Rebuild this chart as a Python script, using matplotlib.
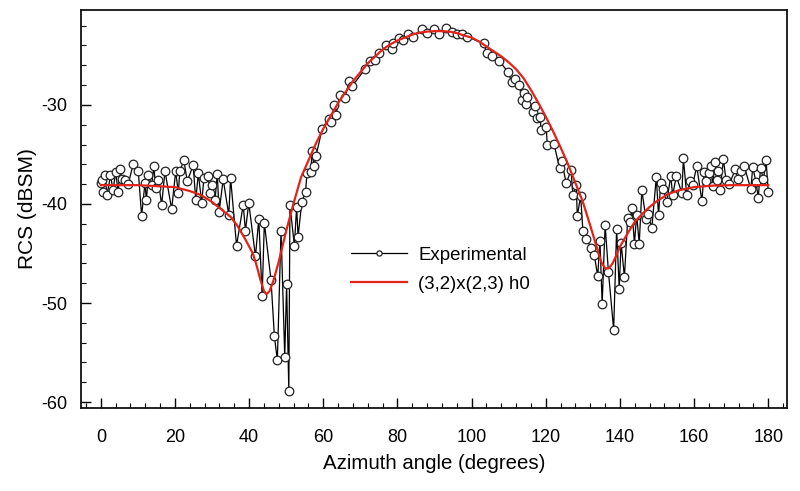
import numpy as np
import matplotlib
matplotlib.use("Agg")
import matplotlib.pyplot as plt
from matplotlib.ticker import MultipleLocator

exp_angle = [
    0.0, 0.3, 0.6, 1.1, 1.7, 2.6, 3.3, 4.0, 4.7, 5.1, 5.8, 6.5, 7.4, 8.7,
    10.1, 11.0, 11.9, 12.3, 12.8, 13.7, 14.3, 14.8, 15.5, 16.4, 17.3, 19.1,
    20.2, 20.9, 21.3, 22.4, 23.3, 24.9, 25.6, 26.3, 27.2, 27.8, 29.0, 29.4,
    30.1, 30.8, 31.4, 31.9, 33.0, 34.5, 35.0, 36.6, 38.4, 39.0, 39.9, 41.7,
    42.6, 43.5, 44.1, 45.9, 46.8, 47.6, 48.6, 49.6, 50.1, 50.7, 51.0, 52.2,
    52.8, 53.2, 54.2, 55.2, 55.6, 56.6, 57.0, 57.5, 58.0, 59.7, 61.4, 62.2,
    62.8, 63.4, 64.5, 65.8, 67.0, 67.8, 71.2, 72.6, 73.9, 75.1, 76.9, 78.4,
    78.9, 80.4, 81.4, 82.9, 84.1, 86.7, 87.9, 89.9, 91.3, 93.0, 94.6, 96.0,
    97.3, 98.7, 103.2, 104.1, 105.4, 107.5, 109.9, 110.8, 111.7, 112.9,
    113.5, 114.0, 114.7, 115.0, 116.5, 117.1, 117.6, 118.5, 118.7, 120.1,
    120.4, 122.2, 123.7, 124.3, 125.5, 126.8, 127.3, 128.2, 128.5, 129.4,
    130.0, 130.9, 132.2, 133.1, 134.0, 134.6, 135.2, 136.0, 136.9, 138.3,
    139.1, 139.8, 140.3, 141.2, 142.1, 142.7, 143.2, 143.9, 144.5, 145.2,
    145.9, 147.0, 147.5, 148.6, 149.8, 150.4, 151.0, 151.7, 152.6, 153.7,
    154.2, 155.2, 156.7, 157.1, 158.0, 158.9, 159.6, 160.7, 162.1, 162.7,
    163.2, 163.9, 164.5, 165.0, 165.6, 166.1, 166.5, 167.0, 167.9, 168.6,
    169.5, 171.1, 171.7, 172.6, 173.5, 175.3, 175.8, 176.7, 177.3, 177.9,
    178.7, 179.4, 180.0,
]
exp_rcs = [
    -37.9, -37.6, -38.8, -37.1, -39.1, -37.1, -38.6, -36.8, -38.8, -36.5,
    -37.5, -37.6, -38.0, -36.0, -36.7, -41.2, -37.9, -39.6, -37.1, -38.1,
    -36.2, -38.4, -37.6, -40.1, -36.7, -40.5, -36.7, -38.9, -36.7, -35.6,
    -37.7, -36.1, -39.6, -36.9, -39.9, -37.4, -37.2, -38.9, -38.1, -39.6,
    -37.0, -40.8, -37.5, -41.1, -37.4, -44.2, -40.1, -42.7, -39.9, -45.3,
    -41.5, -49.3, -41.9, -47.7, -53.3, -55.8, -42.7, -55.4, -48.1, -58.9,
    -40.1, -44.2, -40.3, -43.3, -39.8, -38.8, -36.9, -36.8, -34.7, -36.2,
    -35.2, -32.4, -31.4, -31.7, -30.0, -31.0, -29.0, -29.3, -27.6, -28.1,
    -26.4, -25.6, -25.5, -24.8, -24.0, -24.4, -23.8, -23.2, -23.4, -22.8,
    -23.1, -22.3, -22.7, -22.3, -22.8, -22.2, -22.6, -22.8, -22.8, -23.1,
    -23.8, -24.8, -25.1, -25.6, -26.7, -27.7, -27.4, -28.0, -29.5, -28.8,
    -29.9, -29.2, -30.7, -30.1, -31.3, -31.2, -32.5, -32.2, -34.0, -33.9,
    -36.4, -35.7, -37.9, -36.6, -39.1, -38.1, -41.2, -39.2, -42.7, -43.5,
    -44.4, -45.2, -47.3, -43.7, -50.1, -42.1, -46.9, -52.7, -42.5, -48.6,
    -43.9, -47.4, -41.4, -41.8, -40.4, -44.0, -41.1, -44.0, -38.6, -41.5,
    -41.0, -42.4, -37.3, -41.1, -37.9, -38.5, -39.8, -37.2, -39.1, -37.2,
    -38.9, -35.4, -39.1, -37.7, -38.1, -36.2, -39.7, -36.8, -37.7, -36.9,
    -36.2, -38.2, -35.8, -37.6, -36.7, -38.6, -35.5, -37.6, -38.0, -36.5,
    -37.5, -36.7, -36.2, -38.5, -36.3, -37.8, -39.4, -36.4, -37.5, -35.6,
    -38.8,
]

# model curve (3,2)x(2,3) h0
model_angle = [
    0, 5, 10, 15, 20, 24, 27, 30, 33, 35, 37, 39, 41, 42, 43, 44, 44.7,
    45.5, 46.5, 48, 50, 52, 54, 56, 58, 60, 62, 64, 66, 68, 70, 72, 74, 76,
    78, 80, 82, 84, 86, 88, 90, 92, 94, 96, 98, 100, 102, 104, 106, 108,
    110, 112, 114, 116, 118, 120, 122, 124, 126, 128, 130, 132, 134, 135,
    136, 137, 138, 139, 140, 142, 144, 146, 148, 150, 153, 156, 160, 165,
    170, 175, 180,
]
model_rcs = [
    -38.1, -38.1, -38.1, -38.2, -38.3, -38.7, -39.1, -39.8, -40.7, -41.3,
    -42.3, -43.6, -45.0, -46.2, -47.6, -48.8, -49.1, -48.8, -47.8, -45.8,
    -42.7, -39.9, -37.3, -35.6, -33.9, -32.4, -31.1, -29.8, -28.7, -27.6,
    -26.7, -25.8, -25.1, -24.4, -23.9, -23.5, -23.2, -22.9, -22.7, -22.6,
    -22.55, -22.55, -22.6, -22.75, -23.0, -23.2, -23.6, -24.1, -24.6, -25.1,
    -25.7, -26.4, -27.3, -28.5, -29.8, -31.2, -32.7, -34.3, -36.0, -37.9,
    -39.8, -42.2, -44.7, -45.9, -46.5, -46.5, -46.0, -45.2, -44.3, -43.0,
    -41.8, -41.0, -40.3, -39.7, -39.0, -38.6, -38.3, -38.15, -38.1, -38.1,
    -38.1,
]

plt.rcParams['font.family'] = ['Liberation Sans', 'DejaVu Sans']
plt.rcParams['axes.unicode_minus'] = False

fig = plt.figure(figsize=(8.0, 4.91), dpi=100)
ax = fig.add_axes([0.101, 0.169, 0.883, 0.811])

ax.plot(exp_angle, exp_rcs, color='black', lw=0.9, marker='o', ms=6.2,
        mfc='white', mec='#222222', mew=0.9, label='Experimental', zorder=2)
ax.plot(model_angle, model_rcs, color='#e2231a', lw=1.6,
        label='(3,2)x(2,3) h0', zorder=3)

ax.set_xlim(-5.4, 185.1)
ax.set_ylim(-60.6, -20.4)
ax.xaxis.set_major_locator(MultipleLocator(20))
ax.xaxis.set_minor_locator(MultipleLocator(4))
ax.yaxis.set_major_locator(MultipleLocator(10))
ax.yaxis.set_minor_locator(MultipleLocator(2))
ax.tick_params(which='both', direction='in', top=False, right=False,
               width=1.0, colors='black', labelsize=13)
ax.tick_params(which='major', length=7)
ax.tick_params(which='minor', length=3.5, width=0.8)
ax.tick_params(axis='x', which='major', pad=15)
ax.tick_params(axis='y', which='major', pad=10)
for s in ax.spines.values():
    s.set_linewidth(1.3)
    s.set_color('#111111')

ax.set_xlabel('Azimuth angle (degrees)', fontsize=14.7, labelpad=6)
ax.set_ylabel('RCS (dBSM)', fontsize=15, labelpad=3)

ax.legend(loc='upper left', bbox_to_anchor=(0.359, 0.447), frameon=False,
          fontsize=13.4, handlelength=3.0, handletextpad=0.6,
          labelspacing=0.65, markerscale=0.6)

fig.savefig('out.png', dpi=100)
